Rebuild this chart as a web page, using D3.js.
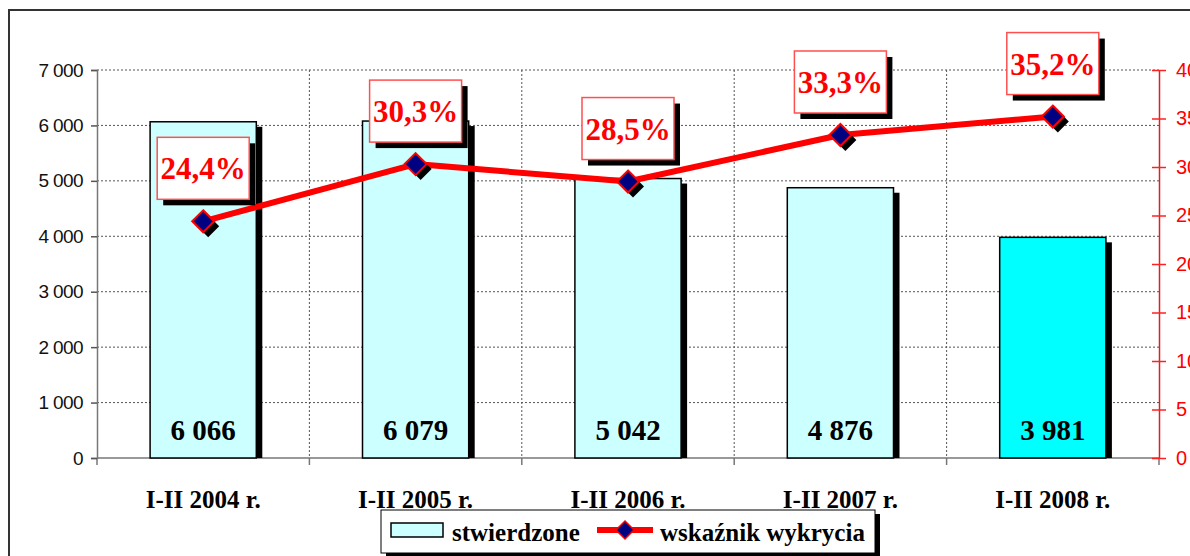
<!DOCTYPE html>
<html>
<head>
<meta charset="utf-8">
<script src="https://cdn.jsdelivr.net/npm/d3@7"></script>
<style>
  html, body { margin: 0; padding: 0; background: #fff; }
  svg { display: block; }
</style>
</head>
<body>
<svg id="chart" width="1190" height="556"></svg>
<script>
const categories = ["I-II 2004 r.", "I-II 2005 r.", "I-II 2006 r.", "I-II 2007 r.", "I-II 2008 r."];
const stwierdzone = [6066, 6079, 5042, 4876, 3981];
const wskaznik = [24.4, 30.3, 28.5, 33.3, 35.2];
const leftTicks = [0, 1000, 2000, 3000, 4000, 5000, 6000, 7000];
const rightTicks = [0, 5, 10, 15, 20, 25, 30, 35, 40];
const seriesNames = ["stwierdzone", "wskaźnik wykrycia"];

const svg = d3.select("#chart");
const pLeft = 97, pRight = 1159, pTop = 70, pBottom = 458;
const serif = "'Liberation Serif', 'Times New Roman', serif";
const sans = "'Liberation Sans', Arial, sans-serif";

const loc = d3.formatLocale({decimal: ",", thousands: " ", grouping: [3], currency: ["", ""]});
const fmtInt = loc.format(",");
const fmtPct = v => loc.format(".1f")(v) + "%";

const x = d3.scaleBand().domain(categories).range([pLeft, pRight]).paddingInner(0.5).paddingOuter(0.25);
const yL = d3.scaleLinear().domain([0, 7000]).range([pBottom, pTop]);
const yR = d3.scaleLinear().domain([0, 40]).range([pBottom, pTop]);
const step = x.step();

// outer frame
svg.append("rect").attr("x", 9).attr("y", 10).attr("width", 1200).attr("height", 600)
  .attr("fill", "none").attr("stroke", "#333").attr("stroke-width", 2);

// horizontal gridlines
svg.append("g").selectAll("line").data(leftTicks.filter(d => d > 0)).join("line")
  .attr("x1", pLeft).attr("x2", pRight).attr("y1", d => yL(d)).attr("y2", d => yL(d))
  .attr("stroke", "#555").attr("stroke-width", 1).attr("stroke-dasharray", "2,2");

// vertical gridlines at category boundaries
const bounds = categories.map((c, i) => pLeft + i * step).concat([pRight]);
svg.append("g").selectAll("line").data(bounds.slice(1, -1)).join("line")
  .attr("x1", d => d).attr("x2", d => d).attr("y1", pTop).attr("y2", pBottom)
  .attr("stroke", "#555").attr("stroke-width", 1).attr("stroke-dasharray", "2,2");

// baseline and category ticks
svg.append("line").attr("x1", pLeft).attr("x2", pRight).attr("y1", pBottom).attr("y2", pBottom)
  .attr("stroke", "#777").attr("stroke-width", 1.5);
svg.append("g").selectAll("line").data(bounds).join("line")
  .attr("x1", d => d).attr("x2", d => d).attr("y1", pBottom).attr("y2", pBottom + 7)
  .attr("stroke", "#777").attr("stroke-width", 1.5);

// left axis
const gL = svg.append("g").attr("transform", `translate(${pLeft},0)`)
  .call(d3.axisLeft(yL).tickValues(leftTicks).tickFormat(fmtInt).tickSize(6).tickPadding(8));
gL.select(".domain").attr("stroke", "#777").attr("stroke-width", 1.5);
gL.selectAll(".tick line").attr("stroke", "#555").attr("stroke-width", 1.5);
gL.selectAll(".tick text").attr("font-family", sans).attr("font-size", 19)
  .attr("letter-spacing", "-0.6").attr("fill", "#111");

// right axis
const gR = svg.append("g").attr("transform", `translate(${pRight},0)`)
  .call(d3.axisRight(yR).tickValues(rightTicks).tickFormat(d => d).tickSize(0).tickPadding(17));
gR.select(".domain").attr("stroke", "#e02020").attr("stroke-width", 1.5);
gR.selectAll(".tick line").attr("x1", -7).attr("x2", 7).attr("stroke", "#ff2020").attr("stroke-width", 1.5);
gR.selectAll(".tick text").attr("font-family", sans).attr("font-size", 20).attr("fill", "#ff0000");

// bars with shadow
const bars = svg.append("g");
bars.selectAll("rect.sh").data(stwierdzone).join("rect").attr("class", "sh")
  .attr("x", (d, i) => x(categories[i]) + 6).attr("y", d => yL(d) + 5)
  .attr("width", x.bandwidth()).attr("height", d => pBottom - yL(d) - 5).attr("fill", "#000");
bars.selectAll("rect.bar").data(stwierdzone).join("rect").attr("class", "bar")
  .attr("x", (d, i) => x(categories[i])).attr("y", d => yL(d))
  .attr("width", x.bandwidth()).attr("height", d => pBottom - yL(d))
  .attr("fill", (d, i) => i === 4 ? "#00ffff" : "#ccffff")
  .attr("stroke", "#000").attr("stroke-width", 1.5);
bars.selectAll("text").data(stwierdzone).join("text")
  .attr("x", (d, i) => x(categories[i]) + x.bandwidth() / 2).attr("y", pBottom - 18)
  .attr("text-anchor", "middle").attr("font-family", serif).attr("font-weight", "bold")
  .attr("font-size", 29).attr("fill", "#000").text(d => fmtInt(d));

// category labels
svg.append("g").selectAll("text").data(categories).join("text")
  .attr("x", d => x(d) + x.bandwidth() / 2).attr("y", 508)
  .attr("text-anchor", "middle").attr("font-family", serif).attr("font-weight", "bold")
  .attr("font-size", 25).attr("fill", "#000").text(d => d);

// line
const cx = (d, i) => x(categories[i]) + x.bandwidth() / 2;
const line = d3.line().x((d, i) => cx(d, i)).y(d => yR(d));
svg.append("path").datum(wskaznik).attr("d", line).attr("fill", "none")
  .attr("stroke", "#ff0000").attr("stroke-width", 6).attr("stroke-linejoin", "round");

const diamond = (cxv, cyv, r) => `M${cxv},${cyv - r}L${cxv + r},${cyv}L${cxv},${cyv + r}L${cxv - r},${cyv}Z`;
const mk = svg.append("g");
mk.selectAll("path.sh").data(wskaznik).join("path").attr("class", "sh")
  .attr("d", (d, i) => diamond(cx(d, i) + 5, yR(d) + 5, 11)).attr("fill", "#000");
mk.selectAll("path.m").data(wskaznik).join("path").attr("class", "m")
  .attr("d", (d, i) => diamond(cx(d, i), yR(d), 11))
  .attr("fill", "#000080").attr("stroke", "#ff0000").attr("stroke-width", 2);

// percent labels
const bw = 92, bh = 62;
const lab = svg.append("g");
lab.selectAll("rect.sh").data(wskaznik).join("rect").attr("class", "sh")
  .attr("x", (d, i) => cx(d, i) - bw / 2 + 6).attr("y", d => yR(d) - 53 - bh / 2 + 6)
  .attr("width", bw).attr("height", bh).attr("fill", "#000");
lab.selectAll("rect.b").data(wskaznik).join("rect").attr("class", "b")
  .attr("x", (d, i) => cx(d, i) - bw / 2).attr("y", d => yR(d) - 53 - bh / 2)
  .attr("width", bw).attr("height", bh).attr("fill", "#fff")
  .attr("stroke", "#ff5050").attr("stroke-width", 1.5);
lab.selectAll("text").data(wskaznik).join("text")
  .attr("x", (d, i) => cx(d, i)).attr("y", d => yR(d) - 53 + 11)
  .attr("text-anchor", "middle").attr("font-family", serif).attr("font-weight", "bold")
  .attr("font-size", 31).attr("fill", "#ff0000").text(d => fmtPct(d));

// legend
const lg = svg.append("g");
lg.append("rect").attr("x", 386).attr("y", 514).attr("width", 494).attr("height", 43).attr("fill", "#000");
lg.append("rect").attr("x", 381).attr("y", 510).attr("width", 494).attr("height", 43)
  .attr("fill", "#fff").attr("stroke", "#000").attr("stroke-width", 1);
lg.append("rect").attr("x", 391).attr("y", 523).attr("width", 52).attr("height", 14)
  .attr("fill", "#ccffff").attr("stroke", "#000").attr("stroke-width", 1.5);
lg.append("text").attr("x", 452).attr("y", 541).attr("font-family", serif).attr("font-weight", "bold")
  .attr("font-size", 25).attr("fill", "#000").text(seriesNames[0]);
lg.append("line").attr("x1", 597).attr("x2", 653).attr("y1", 530).attr("y2", 530)
  .attr("stroke", "#ff0000").attr("stroke-width", 6);
lg.append("path").attr("d", diamond(625, 530, 9)).attr("fill", "#000080")
  .attr("stroke", "#ff0000").attr("stroke-width", 1.5);
lg.append("text").attr("x", 660).attr("y", 541).attr("font-family", serif).attr("font-weight", "bold")
  .attr("font-size", 25).attr("fill", "#000").text(seriesNames[1]);
</script>
</body>
</html>
